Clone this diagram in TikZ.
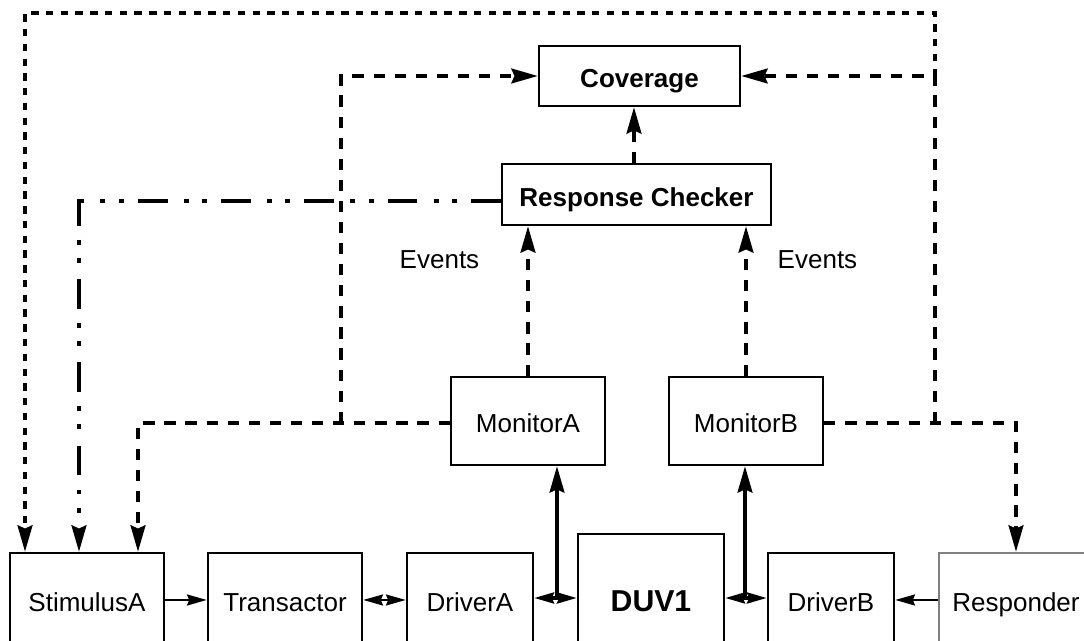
\documentclass[tikz,border=0pt]{standalone}
\usepackage{fontspec}
\setmainfont{Liberation Sans}
\usetikzlibrary{arrows.meta}

\tikzset{
    block/.style={draw, line width=0.7pt, minimum width=1.54cm, minimum height=0.94cm, inner sep=0pt, text height=1.55ex, text depth=0.3ex, font=\fontsize{7.4}{9}\selectfont},
    dashline/.style={line width=1.05pt, dash pattern=on 3.2pt off 2.8pt},
    dotline/.style={line width=1.05pt, dash pattern=on 2.1pt off 2.1pt},
    chainline/.style={line width=1.05pt, dash pattern=on 8.5pt off 4pt on 1.4pt off 3.8pt on 1.4pt off 4.6pt},
    bigtip/.style={-{Stealth[length=7.5pt,width=4.2pt,inset=0.9pt]}},
    smalltip/.style={-{Stealth[length=5.6pt,width=3.1pt,inset=0.6pt]}},
    twotip/.style={{Stealth[length=5.6pt,width=3.1pt,inset=0.6pt]}-{Stealth[length=5.6pt,width=3.1pt,inset=0.6pt]}}
}

\begin{document}
\begin{tikzpicture}
                \useasboundingbox (0,0) rectangle (10.84,6.41);
                \clip (0,0) rectangle (10.84,6.41);

                % bottom row
                \node[block] (stimA) at (0.87,0.41) {StimulusA};
                \node[block] (trans) at (2.85,0.41) {Transactor};
                \node[block, minimum width=1.26cm] (drvA) at (4.70,0.41) {DriverA};
                \node[block, minimum width=1.46cm, minimum height=1.32cm, font=\fontsize{8.6}{10}\selectfont\bfseries] (duv) at (6.51,0.41) {DUV1};
                \node[block, minimum width=1.26cm] (drvB) at (8.31,0.41) {DriverB};
                \node[block, draw=black!50] (resp) at (10.16,0.41) {Responder};

                % monitors, checker, coverage
                \node[block, minimum height=0.88cm] (monA) at (5.28,2.20) {MonitorA};
                \node[block, minimum height=0.88cm] (monB) at (7.46,2.20) {MonitorB};
                \node[block, minimum width=2.69cm, minimum height=0.61cm, font=\fontsize{7.4}{9}\selectfont\bfseries] (rc) at (6.365,4.465) {Response Checker};
                \node[block, minimum width=2.01cm, minimum height=0.60cm, font=\fontsize{7.4}{9}\selectfont\bfseries] (cov) at (6.395,5.65) {Coverage};

                \node[font=\fontsize{7.4}{9}\selectfont] (evA) at (4.395,3.81) {Events};
                \node[font=\fontsize{7.4}{9}\selectfont] (evB) at (8.175,3.81) {Events};

                % taps and bends
                \coordinate (tapA) at (5.57,0.43);
                \coordinate (tapB) at (7.45,0.43);
                \coordinate (jnA) at (3.41,2.18);
                \coordinate (jnB) at (9.35,2.18);
                \coordinate (topB) at (9.35,5.65);

                % datapath
                \draw[smalltip, line width=0.7pt] (stimA) -- (trans);
                \draw[twotip, line width=0.7pt] (trans) -- (drvA);
                \draw[twotip, line width=1pt] (drvA.east |- tapA) -- (duv.west |- tapA);
                \draw[twotip, line width=1pt] (duv.east |- tapB) -- (drvB.west |- tapB);
                \draw[smalltip, line width=0.7pt] (resp) -- (drvB);
                \draw[bigtip, line width=1pt] (tapA) -- (tapA |- monA.south);
                \draw[bigtip, line width=1pt] (tapB) -- (tapB |- monB.south);

                % events and coverage
                \draw[bigtip, dashline] (monA.north) -- (monA.north |- rc.south);
                \draw[bigtip, dashline] (monB.north) -- (monB.north |- rc.south);
                \draw[bigtip, dashline] (rc.north -| 6.34,0) -- (cov.south -| 6.34,0);

                % feedback from the monitors
                \draw[bigtip, dashline] (monA.west |- jnA) -| (1.38,0 |- stimA.north);
                \draw[bigtip, dashline] (jnA) |- (cov.west);
                \draw[bigtip, dashline] (monB.east |- jnB) -| (resp.north);
                \draw[bigtip, dashline] (jnB) |- (cov.east);
                \draw[bigtip, dotline] (topB) |- (0.25,6.28) -- (0.25,0 |- stimA.north);
                \draw[bigtip, chainline] (rc.west |- 0,4.40) -| (0.79,0 |- stimA.north);

            \end{tikzpicture}
\end{document}
